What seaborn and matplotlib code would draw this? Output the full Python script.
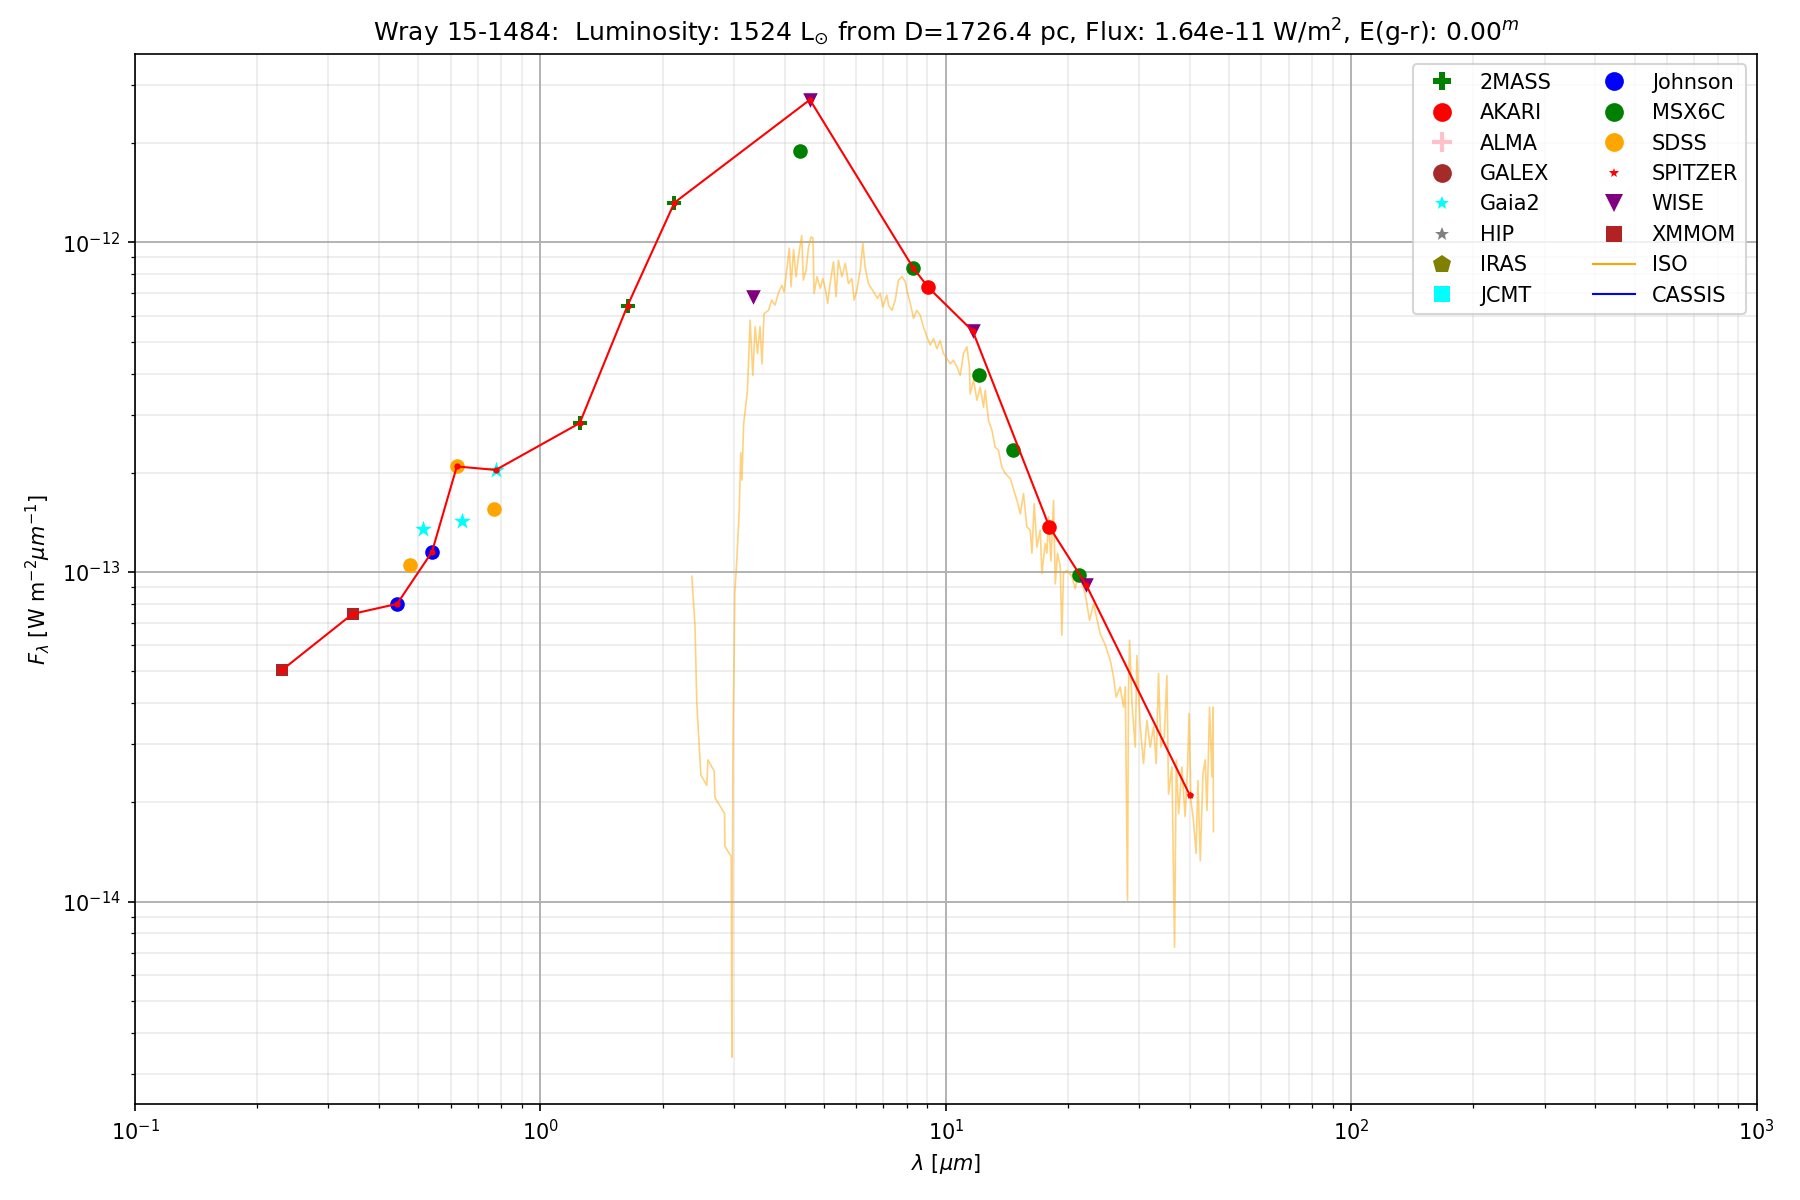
import matplotlib
matplotlib.use("Agg")
import matplotlib.pyplot as plt
from matplotlib.lines import Line2D
import seaborn as sns

# ---------------- data ----------------
xmmom_wl = [0.230, 0.344]
xmmom_fl = [5.03e-14, 7.46e-14]
johnson_wl = [0.443, 0.540]
johnson_fl = [8.0e-14, 1.15e-13]
sdss_wl = [0.476, 0.622, 0.767]
sdss_fl = [1.05e-13, 2.09e-13, 1.55e-13]
gaia_wl = [0.512, 0.640, 0.776]
gaia_fl = [1.35e-13, 1.43e-13, 2.04e-13]
tmass_wl = [1.25, 1.64, 2.14]
tmass_fl = [2.83e-13, 6.43e-13, 1.32e-12]
wise_wl = [3.34, 4.62, 11.65, 22.2]
wise_fl = [6.85e-13, 2.71e-12, 5.38e-13, 9.12e-14]
msx_wl = [4.36, 8.30, 12.1, 14.6, 21.3]
msx_fl = [1.89e-12, 8.38e-13, 3.97e-13, 2.35e-13, 9.8e-14]
akari_wl = [9.04, 18.0]
akari_fl = [7.31e-13, 1.37e-13]
spitzer_wl = [39.9]
spitzer_fl = [2.11e-14]

sed_wl = [0.230, 0.344, 0.443, 0.540, 0.622, 0.776, 1.25, 1.64, 2.14,
          4.62, 8.30, 9.04, 11.65, 18.0, 22.2, 39.9]
sed_fl = [5.03e-14, 7.46e-14, 8.0e-14, 1.15e-13, 2.09e-13, 2.04e-13,
          2.83e-13, 6.43e-13, 1.32e-12, 2.71e-12, 8.38e-13, 7.31e-13,
          5.38e-13, 1.37e-13, 9.12e-14, 2.11e-14]

iso_wl = [2.363, 2.406, 2.43, 2.464, 2.487, 2.573, 2.588, 2.683, 2.693, 2.844,
          2.851, 2.954, 2.966, 2.983, 2.992, 3.005, 3.015, 3.05, 3.09, 3.12,
          3.14, 3.17, 3.20, 3.24, 3.29, 3.34, 3.385, 3.43, 3.48, 3.52,
          3.56, 3.65, 3.72, 3.79, 3.86, 3.94, 3.99, 4.04, 4.11, 4.15,
          4.21, 4.27, 4.33, 4.41, 4.45, 4.52, 4.58, 4.65, 4.70, 4.73,
          4.81, 4.90, 4.97, 5.05, 5.11, 5.18, 5.28, 5.36, 5.43, 5.54,
          5.65, 5.75, 5.86, 5.94, 6.03, 6.15, 6.24, 6.32, 6.44, 6.63,
          6.78, 6.89, 6.99, 7.15, 7.22, 7.36, 7.50, 7.64, 7.79, 7.94,
          8.01, 8.17, 8.32, 8.48, 8.64, 8.80, 8.98, 9.15, 9.32, 9.50,
          9.68, 9.86, 10.06, 10.25, 10.44, 10.65, 10.85, 11.05, 11.27, 11.43,
          11.48, 11.70, 11.93, 12.15, 12.38, 12.50, 12.74, 12.99, 13.23, 13.48,
          13.74, 14.01, 14.41, 14.97, 15.26, 15.54, 15.84, 16.14, 16.30, 16.51,
          16.77, 17.09, 17.25, 17.58, 17.75, 17.91, 18.16, 18.43, 18.61, 18.85,
          19.14, 19.32, 19.50, 19.88, 20.45, 20.84, 21.24, 22.06, 22.61, 23.13,
          24.02, 24.72, 25.43, 25.91, 26.3, 26.9, 27.43, 27.7, 28.05, 28.2,
          28.38, 28.77, 29.31, 29.59, 30.15, 30.72, 31.32, 31.91, 32.51, 33.02,
          33.45, 33.91, 34.55, 35.08, 35.41, 36.10, 36.64, 37.0, 37.5, 38.2,
          38.9, 39.45, 39.8, 40.2, 40.8, 41.4, 41.85, 42.4, 43.05, 43.6,
          44.05, 44.7, 45.3, 45.57, 45.7]
iso_fl = [9.7e-14, 6.81e-14, 3.99e-14, 2.94e-14, 2.42e-14, 2.25e-14, 2.69e-14, 2.49e-14, 2.07e-14, 1.85e-14,
          1.47e-14, 1.37e-14, 3.37e-15, 2.69e-14, 3.99e-14, 5.86e-14, 8.6e-14, 1.09e-13, 1.5e-13, 2.3e-13,
          1.9e-13, 2.8e-13, 3.10e-13, 3.56e-13, 5.81e-13, 3.95e-13, 5.55e-13, 4.60e-13, 5.55e-13, 4.28e-13,
          6.08e-13, 6.22e-13, 6.68e-13, 6.45e-13, 7.0e-13, 7.41e-13, 7.08e-13, 8.05e-13, 9.6e-13, 7.33e-13,
          9.5e-13, 7.87e-13, 9.06e-13, 1.05e-12, 7.69e-13, 8.25e-13, 9.6e-13, 1.04e-12, 1.03e-12, 7.0e-13,
          7.87e-13, 7.25e-13, 7.77e-13, 7.16e-13, 6.53e-13, 7.5e-13, 8.73e-13, 6.84e-13, 8.83e-13, 7.87e-13,
          8.63e-13, 7.5e-13, 7.77e-13, 6.68e-13, 7.16e-13, 8.25e-13, 9.93e-13, 8.43e-13, 7.5e-13, 7.08e-13,
          6.76e-13, 7.0e-13, 6.37e-13, 6.92e-13, 6.45e-13, 6.22e-13, 6.68e-13, 7.69e-13, 7.87e-13, 7.6e-13,
          7.16e-13, 6.53e-13, 5.88e-13, 6.22e-13, 6.01e-13, 5.55e-13, 5.17e-13, 4.88e-13, 5.11e-13, 4.76e-13,
          5.04e-13, 4.60e-13, 4.44e-13, 4.28e-13, 4.39e-13, 4.19e-13, 3.95e-13, 4.60e-13, 4.82e-13, 4.19e-13,
          3.47e-13, 3.82e-13, 3.32e-13, 3.64e-13, 3.16e-13, 3.56e-13, 2.88e-13, 2.69e-13, 2.39e-13, 2.34e-13,
          2.08e-13, 1.99e-13, 1.92e-13, 1.65e-13, 1.50e-13, 1.73e-13, 1.37e-13, 1.34e-13, 1.14e-13, 1.61e-13,
          1.19e-13, 1.34e-13, 9.9e-14, 1.22e-13, 1.14e-13, 1.47e-13, 1.08e-13, 1.65e-13, 9.2e-14, 1.14e-13,
          1.04e-13, 6.43e-14, 9.9e-14, 1.01e-13, 9.7e-14, 8.9e-14, 9.9e-14, 8.6e-14, 7.13e-14, 8.0e-14,
          6.5e-14, 6.0e-14, 5.4e-14, 4.8e-14, 4.17e-14, 4.48e-14, 3.89e-14, 4.48e-14, 1.01e-14, 4.28e-14,
          6.21e-14, 3.99e-14, 2.94e-14, 5.58e-14, 3.39e-14, 2.62e-14, 3.55e-14, 2.94e-14, 3.39e-14, 2.62e-14,
          4.92e-14, 2.94e-14, 3.16e-14, 4.85e-14, 2.12e-14, 2.56e-14, 7.27e-15, 2.69e-14, 1.85e-14, 2.56e-14,
          1.81e-14, 2.56e-14, 3.72e-14, 2.03e-14, 1.76e-14, 1.40e-14, 2.33e-14, 1.33e-14, 2.44e-14, 2.69e-14,
          1.89e-14, 3.89e-14, 2.39e-14, 3.89e-14, 1.63e-14]

# ---------------- plot ----------------
fig, ax = plt.subplots(figsize=(12, 8), dpi=150)
fig.subplots_adjust(left=0.075, right=0.976, bottom=0.080, top=0.955)
ax.set_xscale('log')
ax.set_yscale('log')

sns.lineplot(x=iso_wl, y=iso_fl, color='orange', alpha=0.5, linewidth=0.8,
             estimator=None, sort=False, ax=ax, legend=False, zorder=2)

phot = [
    (tmass_wl, tmass_fl, 'P', 'green', 7),
    (akari_wl, akari_fl, 'o', 'red', 7),
    (gaia_wl, gaia_fl, '*', 'cyan', 8.5),
    (johnson_wl, johnson_fl, 'o', 'blue', 7),
    (msx_wl, msx_fl, 'o', 'green', 7),
    (sdss_wl, sdss_fl, 'o', 'orange', 7),
    (spitzer_wl, spitzer_fl, '*', 'red', 4),
    (wise_wl, wise_fl, 'v', 'purple', 7),
    (xmmom_wl, xmmom_fl, 's', 'firebrick', 6),
]
for wl, fl, mk, col, ms in phot:
    sns.scatterplot(x=wl, y=fl, marker=mk, color=col, s=ms**2, linewidth=0,
                    ax=ax, legend=False, zorder=3)

sns.lineplot(x=sed_wl, y=sed_fl, color='red', linewidth=1.0, marker='o',
             markersize=3, markeredgewidth=0, estimator=None, sort=False,
             ax=ax, legend=False, zorder=4)

ax.set_xlim(0.1, 1000)
ax.set_ylim(2.43e-15, 3.73e-12)
ax.set_axisbelow(True)
ax.grid(True, which='major', color='#b0b0b0', linewidth=0.9)
ax.grid(True, which='minor', color='#b0b0b0', alpha=0.25, linewidth=0.8)

ax.set_title(r'Wray 15-1484:  Luminosity: 1524 L$_{\odot}$ from D=1726.4 pc, '
             r'Flux: 1.64e-11 W/m$^2$, E(g-r): 0.00$^m$')
ax.set_xlabel(r'$\lambda$ [$\mu m$]')
ax.set_ylabel(r'$F_{\lambda}$ [W m$^{-2}\mu m^{-1}$]')

def mh(marker, color, ms, label):
    return Line2D([], [], linestyle='none', marker=marker, color=color,
                  markersize=ms, markeredgewidth=2 if marker == '+' else 0,
                  label=label)

handles = [
    mh('P', 'green', 9, '2MASS'),
    mh('o', 'red', 9, 'AKARI'),
    mh('+', 'pink', 10, 'ALMA'),
    mh('o', 'brown', 9, 'GALEX'),
    mh('*', 'cyan', 7, 'Gaia2'),
    mh('*', 'grey', 7, 'HIP'),
    mh('p', 'olive', 9, 'IRAS'),
    mh('s', 'cyan', 8, 'JCMT'),
    mh('o', 'blue', 9, 'Johnson'),
    mh('o', 'green', 9, 'MSX6C'),
    mh('o', 'orange', 9, 'SDSS'),
    mh('*', 'red', 5, 'SPITZER'),
    mh('v', 'purple', 9, 'WISE'),
    mh('s', 'firebrick', 8, 'XMMOM'),
    Line2D([], [], color='orange', linewidth=1, label='ISO'),
    Line2D([], [], color='blue', linewidth=1, label='CASSIS'),
]
ax.legend(handles=handles, ncol=2, loc='upper right')

fig.savefig('out.png', dpi=150)
